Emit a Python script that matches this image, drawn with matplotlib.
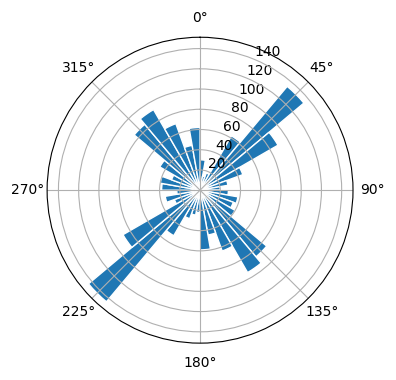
import numpy as np
import matplotlib
matplotlib.use('Agg')
import matplotlib.pyplot as plt

# direction bins (start of each 10 degree bin) and counts
bin_start = list(range(0, 360, 10))
counts = [30, 14, 18, 62, 134, 89, 45, 28, 20,
          28, 38, 35, 40, 86, 94, 64, 45, 59,
          22, 25, 30, 52, 144, 88, 27, 35, 23,
          38, 40, 30, 46, 85, 92, 70, 45, 62]
bin_width = 10

fig = plt.figure(figsize=(3.96, 3.8), dpi=100)
ax = fig.add_axes([0.1187, 0.097, 0.773, 0.805], projection='polar')
ax.set_theta_zero_location('N')
ax.set_theta_direction(-1)

ax.bar(np.deg2rad(bin_start), counts, width=np.deg2rad(bin_width),
       align='edge', color='#1f77b4', edgecolor='white', linewidth=1)

plt.savefig('out.png', dpi=100)
